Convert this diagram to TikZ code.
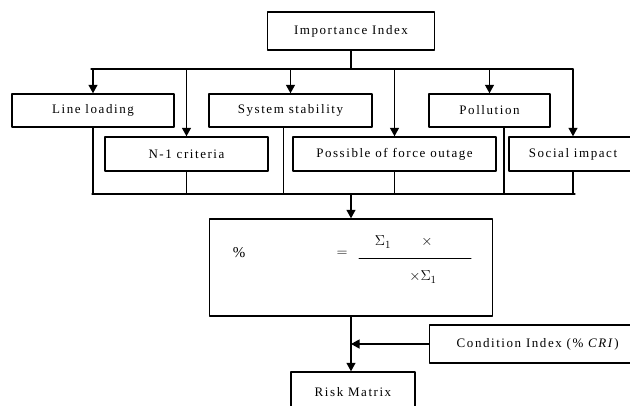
\documentclass[tikz,border=0pt]{standalone}
\usepackage{fontspec}
\setmainfont[LetterSpace=12]{Liberation Serif}
\usetikzlibrary{arrows.meta}

\begin{document}
\begin{tikzpicture}[line cap=round,line join=round,>={Triangle[length=8.5pt,width=9pt]},x=1pt,y=-1pt,
  box/.style={draw,line width=1.4pt,inner sep=0pt,minimum height=34pt,font=\fontsize{13}{15}\selectfont},
  link/.style={line width=1.2pt}]
\useasboundingbox (0,0) rectangle (630,405);
\clip (0,0) rectangle (630,405);
% boxes
\node[box,minimum width=167pt,minimum height=38pt] (imp) at (351,31) {Importance Index};
\node[box,minimum width=162pt,minimum height=33pt] (ll) at (93,110.5) {Line loading};
\node[box,minimum width=163pt,minimum height=33pt] (ss) at (290.5,110.5) {System stability};
\node[box,minimum width=121pt,minimum height=33pt] (pol) at (489.5,110.5) {Pollution};
\node[box,minimum width=163pt] (ncr) at (186.5,154) {N-1 criteria};
\node[box,minimum width=203pt] (pfo) at (394.5,154) {Possible of force outage};
\node[box,minimum width=128pt] (soc) at (573,154) {Social impact};
\node[box,minimum width=283pt,minimum height=97pt] (form) at (351,267.5) {};
\node[box,minimum width=216pt,minimum height=38pt,anchor=west] (ci) at (429,344) {Condition Index (\% \textit{CRI})};
\node[box,minimum width=124pt,minimum height=40pt] (rm) at (353,392) {Risk Matrix};
% formula
\node (pct) at (239,253) {\fontsize{15}{17}\selectfont\%};
\node (eq) at (342,254) {\fontsize{15}{17}\selectfont$=$};
\node (num) at (383,242) {\fontsize{15}{17}\selectfont$\Sigma_1$};
\node (numx) at (427,242) {\fontsize{15}{17}\selectfont$\times$};
\node (den) at (423,277) {\fontsize{15}{17}\selectfont$\times\Sigma_1$};
\draw[line width=1pt] (359,258) -- (471,258);
% top bus
\coordinate (tl) at (91,69);
\coordinate (tr) at (573,69);
\draw[link] (tl) -- (tr);
\draw[link] (imp.south) -- (imp.south |- tl);
\foreach \n in {ll,ncr,ss,pfo,pol,soc}
  \draw[link,->] (\n.north |- tl) -- (\n.north);
% bottom bus
\coordinate (bl) at (92,194);
\coordinate (br) at (575,194);
\draw[link] (bl) -- (br);
\foreach \n in {ll,ncr,pfo,soc}
  \draw[link] (\n.south) -- (\n.south |- bl);
\draw[link] ([xshift=-7pt]ss.south) -- ([xshift=-7pt]ss.south |- bl);
\draw[link] ([xshift=14.5pt]pol.south) -- ([xshift=14.5pt]pol.south |- bl);
\draw[link,->] (form.north |- bl) -- (form.north);
% lower part
\draw[link,->] (form.south) -- (rm.north -| form.south);
\draw[link,->] (ci.west) -- (ci.west -| form.south);
\end{tikzpicture}
\end{document}
